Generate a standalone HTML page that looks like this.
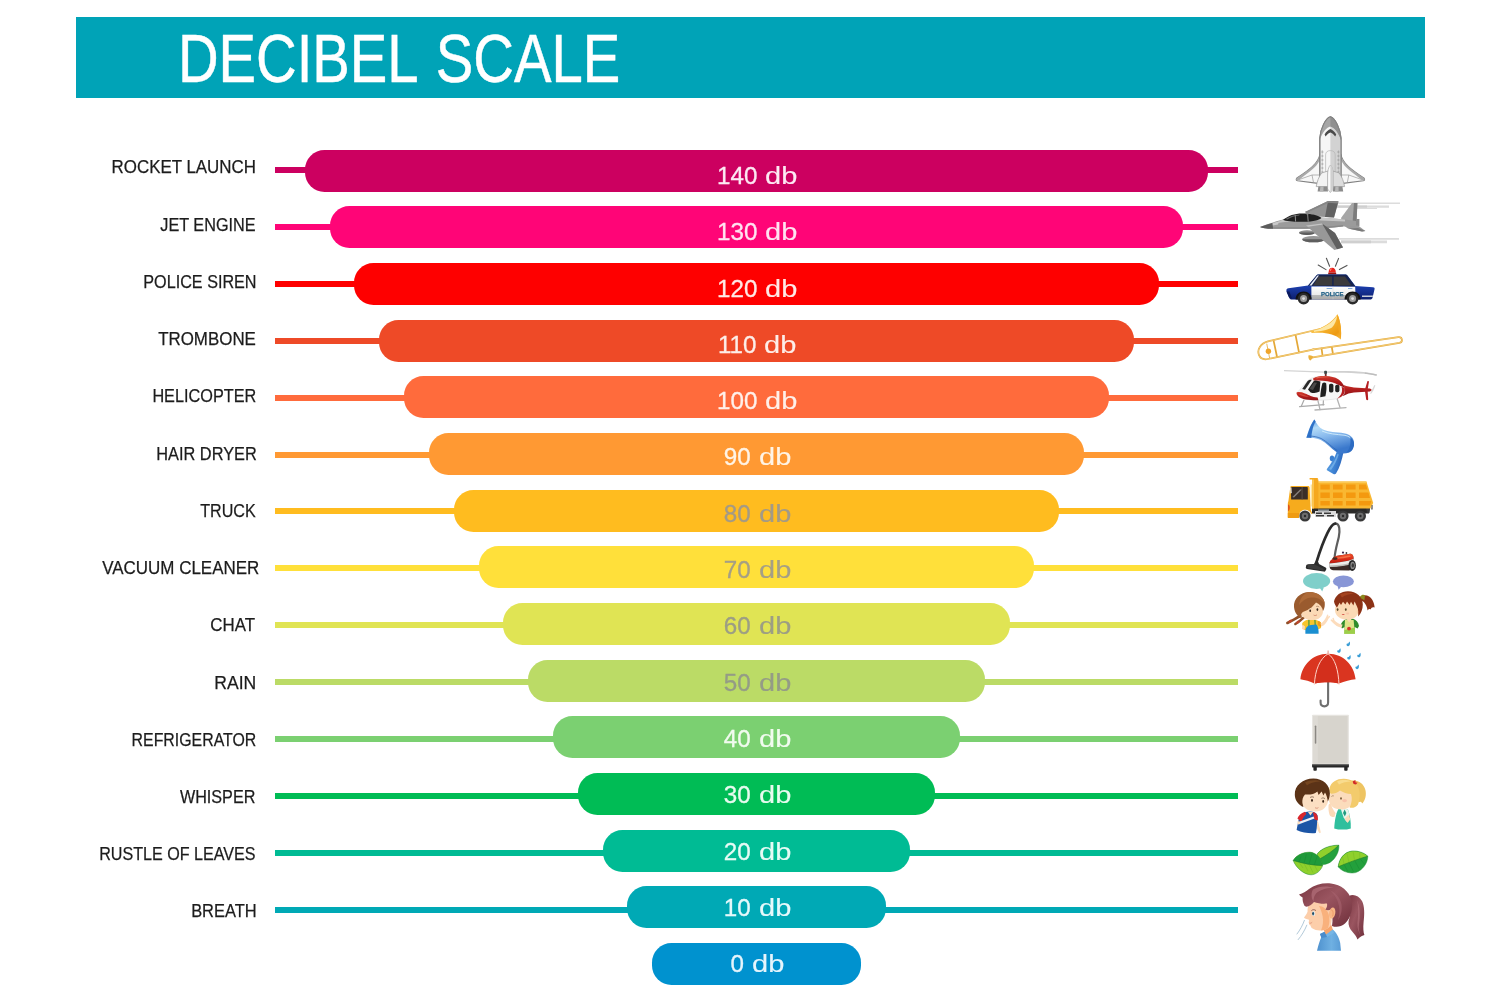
<!DOCTYPE html>
<html lang="en">
<head>
<meta charset="utf-8">
<title>Decibel Scale</title>
<style>
html,body{margin:0;padding:0;background:#fff;}
body{width:1500px;height:1000px;position:relative;overflow:hidden;font-family:"Liberation Sans",sans-serif;}
.page{position:absolute;left:0;top:0;width:1500px;height:1000px;background:#fff;overflow:hidden;}
.title{position:absolute;left:76px;top:17.3px;width:1349px;height:81px;background:#00a3b7;margin:0;}
.title h1{position:absolute;margin:0;left:102px;top:1px;word-spacing:4.5px;font-weight:400;color:#fff;white-space:nowrap;
  font-size:68px;line-height:81px;height:81px;transform-origin:0 50%;transform:scaleX(.8268);letter-spacing:0;-webkit-text-stroke:.5px #fff;}
.scale{list-style:none;margin:0;padding:0;}
.scale li{margin:0;padding:0;}
.line{position:absolute;left:274.7px;width:963.3px;height:6px;}
.bar{position:absolute;height:42px;border-radius:19.5px;}
.label{position:absolute;right:1244.7px;white-space:nowrap;color:#1c1c1c;-webkit-text-stroke:.25px #1c1c1c;font-size:18.5px;line-height:18.5px;
  transform-origin:100% 50%;transform:scaleX(0.91);}
.db{position:absolute;left:0;width:100%;text-align:center;white-space:nowrap;-webkit-text-stroke:.3px currentColor;font-size:24.2px;line-height:24.2px;letter-spacing:0px;}
.u{display:inline-block;transform:scaleX(1.2);transform-origin:0 50%;margin-left:1.2px;margin-right:3.8px;-webkit-text-stroke:.12px currentColor;}
.icons{position:absolute;left:0;top:0;width:1500px;height:1000px;}
</style>
</head>
<body>
<div class="page">
<header class="title"><h1>DECIBEL SCALE</h1></header>
<ul class="scale">
<li><span class="label" style="top:158.44px;right:1244.31px;transform:scaleX(0.9139)">ROCKET LAUNCH</span><span class="line" style="top:167px;background:#cc0060"></span><span class="bar" style="left:304.7px;top:149.7px;width:903.6px;background:#cc0060"><span class="db" style="top:14.21px;color:#fde9f3">140 <span class="u">db</span></span></span></li>
<li><span class="label" style="top:215.67px;right:1244.71px;transform:scaleX(0.8778)">JET ENGINE</span><span class="line" style="top:223.91px;background:#ff0577"></span><span class="bar" style="left:329.53px;top:206.36px;width:853.94px;background:#ff0577"><span class="db" style="top:13.86px;color:#ffe3f1">130 <span class="u">db</span></span></span></li>
<li><span class="label" style="top:272.9px;right:1243.85px;transform:scaleX(0.8739)">POLICE SIREN</span><span class="line" style="top:280.82px;background:#fe0000"></span><span class="bar" style="left:354.36px;top:263.02px;width:804.28px;background:#fe0000"><span class="db" style="top:13.51px;color:#ffe9e6">120 <span class="u">db</span></span></span></li>
<li><span class="label" style="top:330.13px;right:1244.48px;transform:scaleX(0.9145)">TROMBONE</span><span class="line" style="top:337.73px;background:#ee4a27"></span><span class="bar" style="left:379.19px;top:319.68px;width:754.62px;background:#ee4a27"><span class="db" style="top:13.16px;color:#fdeee9">110 <span class="u">db</span></span></span></li>
<li><span class="label" style="top:387.36px;right:1243.78px;transform:scaleX(0.8784)">HELICOPTER</span><span class="line" style="top:394.64px;background:#ff6b3c"></span><span class="bar" style="left:404.02px;top:376.34px;width:704.96px;background:#ff6b3c"><span class="db" style="top:12.81px;color:#fff0ea">100 <span class="u">db</span></span></span></li>
<li><span class="label" style="top:444.59px;right:1243.43px;transform:scaleX(0.8833)">HAIR DRYER</span><span class="line" style="top:451.55px;background:#ff9933"></span><span class="bar" style="left:428.85px;top:433px;width:655.3px;background:#ff9933"><span class="db" style="top:12.46px;color:#fff4e6">90 <span class="u">db</span></span></span></li>
<li><span class="label" style="top:501.82px;right:1244.58px;transform:scaleX(0.8711)">TRUCK</span><span class="line" style="top:508.46px;background:#ffbc1f"></span><span class="bar" style="left:453.68px;top:489.66px;width:605.64px;background:#ffbc1f"><span class="db" style="top:12.11px;color:#a39a86">80 <span class="u">db</span></span></span></li>
<li><span class="label" style="top:559.05px;right:1240.19px;transform:scaleX(0.9173)">VACUUM CLEANER</span><span class="line" style="top:565.37px;background:#ffe03a"></span><span class="bar" style="left:478.51px;top:546.32px;width:555.98px;background:#ffe03a"><span class="db" style="top:11.76px;color:#a59f85">70 <span class="u">db</span></span></span></li>
<li><span class="label" style="top:616.28px;right:1245.38px;transform:scaleX(0.9109)">CHAT</span><span class="line" style="top:622.28px;background:#e0e454"></span><span class="bar" style="left:503.34px;top:602.98px;width:506.32px;background:#e0e454"><span class="db" style="top:11.41px;color:#9c9e84">60 <span class="u">db</span></span></span></li>
<li><span class="label" style="top:673.51px;right:1243.6px;transform:scaleX(0.9488)">RAIN</span><span class="line" style="top:679.19px;background:#bbdb66"></span><span class="bar" style="left:528.17px;top:659.64px;width:456.66px;background:#bbdb66"><span class="db" style="top:11.06px;color:#949c86">50 <span class="u">db</span></span></span></li>
<li><span class="label" style="top:730.74px;right:1244.06px;transform:scaleX(0.8583)">REFRIGERATOR</span><span class="line" style="top:736.1px;background:#7bd071"></span><span class="bar" style="left:553px;top:716.3px;width:407px;background:#7bd071"><span class="db" style="top:10.71px;color:#f1fbef">40 <span class="u">db</span></span></span></li>
<li><span class="label" style="top:787.97px;right:1244.29px;transform:scaleX(0.8738)">WHISPER</span><span class="line" style="top:793.01px;background:#00bc55"></span><span class="bar" style="left:577.83px;top:772.96px;width:357.34px;background:#00bc55"><span class="db" style="top:10.36px;color:#e8fbef">30 <span class="u">db</span></span></span></li>
<li><span class="label" style="top:845.2px;right:1244.33px;transform:scaleX(0.8709)">RUSTLE OF LEAVES</span><span class="line" style="top:849.92px;background:#00bb94"></span><span class="bar" style="left:602.66px;top:829.62px;width:307.68px;background:#00bb94"><span class="db" style="top:10.01px;color:#e6fbf5">20 <span class="u">db</span></span></span></li>
<li><span class="label" style="top:902.43px;right:1243.59px;transform:scaleX(0.8897)">BREATH</span><span class="line" style="top:906.83px;background:#00a9b5"></span><span class="bar" style="left:627.49px;top:886.28px;width:258.02px;background:#00a9b5"><span class="db" style="top:9.66px;color:#e6f9fb">10 <span class="u">db</span></span></span></li>
<li><span class="bar" style="left:652.32px;top:942.94px;width:208.36px;background:#0092cf"><span class="db" style="top:9.31px;color:#e6f5fc">0 <span class="u">db</span></span></span></li>
</ul>
<svg class="icons" viewBox="0 0 1500 1000" width="1500" height="1000" aria-label="sound source illustrations">
<g id="shuttle" transform="translate(1285,105)">
  <!-- wings -->
  <path d="M35,49 C33.4,58.5 24,65 11.6,73.2 C10.8,74.6 11.4,75.6 12.6,75.8 L33,78.4 L58,78.4 L78.2,75.8 C79.4,75.6 80,74.6 79.2,73.2 C66.8,65 57.4,58.5 55.8,49 Z" fill="#f7f7f7" stroke="#808080" stroke-width="1.1" stroke-linejoin="round"/>
  <path d="M35,49 C33.4,58.5 24,65 11.6,73.2 C10.8,74.6 11.4,75.6 12.6,75.8 C22,68.5 31.5,63 35,54.5 Z" fill="#a8a8a8"/>
  <path d="M55.8,49 C57.4,58.5 66.8,65 79.2,73.2 C80,74.6 79.4,75.6 78.2,75.8 C68.8,68.5 59.3,63 55.8,54.5 Z" fill="#a8a8a8"/>
  <path d="M14,74.6 L27,70 L34,70 M27,70 L28.5,77.6 M76.8,74.6 L63.8,70 L56.8,70 M63.8,70 L62.3,77.6" fill="none" stroke="#9a9a9a" stroke-width=".7"/>
  <!-- body -->
  <path d="M34.8,74 L34.8,33 C35.4,24 40.6,13 45.4,11.8 C50.2,13 55.4,24 56,33 L56,74 Z" fill="#f6f6f6" stroke="#808080" stroke-width="1.1" stroke-linejoin="round"/>
  <path d="M45.4,11.8 C50.2,13 55.4,24 56,33 L56,74 L45.4,74 Z" fill="#d2d2d2"/>
  <!-- nose cap -->
  <path d="M34.8,35 L34.8,33 C35.4,24 40.6,13 45.4,11.8 C50.2,13 55.4,24 56,33 L56,35 C53.5,27 49,22 45.4,21.4 C41.8,22 37.3,27 34.8,35 Z" fill="#a6a6a6"/>
  <path d="M45.4,11.8 C50.2,13 55.4,24 56,33 L56,35 C53.5,27 49,22 45.4,21.4 Z" fill="#8f8f8f"/>
  <path d="M34.8,74 L34.8,33 C35.4,24 40.6,13 45.4,11.8 C50.2,13 55.4,24 56,33 L56,74" fill="none" stroke="#808080" stroke-width="1.1"/>
  <!-- window chevron -->
  <path d="M39.6,29.6 C41,26.6 43.6,24.6 45.4,24 C47.2,24.6 49.8,26.6 51.2,29.6 L50.2,31.4 C48.6,29.2 46.8,27.8 45.4,27.4 C44,27.8 42.2,29.2 40.6,31.4 Z" fill="#4a4a4a"/>
  <!-- payload bay lines -->
  <path d="M37.2,45 L37.2,70 M53.6,45 L53.6,70 M40.6,69 L40.6,50 C40.6,47 42.5,45.6 45.4,45.6 C48.3,45.6 50.2,47 50.2,50 L50.2,69" fill="none" stroke="#b5b5b5" stroke-width=".7"/>
  <path d="M36.4,47h2M36.4,51h2M36.4,55h2M36.4,59h2M36.4,63h2M36.4,67h2M52.4,47h2M52.4,51h2M52.4,55h2M52.4,59h2M52.4,63h2M52.4,67h2" stroke="#8c8c8c" stroke-width=".8"/>
  <!-- engine pods -->
  <path d="M36.6,68 C33.6,72 32,77 31.2,81.6 L43,81.6 L43,66 Z" fill="#f3f3f3" stroke="#9a9a9a" stroke-width=".7"/>
  <path d="M54.2,68 C57.2,72 58.8,77 59.6,81.6 L47.8,81.6 L47.8,66 Z" fill="#dcdcdc" stroke="#9a9a9a" stroke-width=".7"/>
  <!-- tail fin -->
  <path d="M45.4,60 C43.4,62 42.6,66 42.6,70 L42.6,84 L45.4,87.5 L48.2,84 L48.2,70 C48.2,66 47.4,62 45.4,60 Z" fill="#fafafa" stroke="#a8a8a8" stroke-width=".7"/>
  <path d="M45.4,60 C47.4,62 48.2,66 48.2,70 L48.2,84 L45.4,87.5 Z" fill="#cfcfcf"/>
  <!-- nozzles -->
  <path d="M33.4,81.6 L42.4,81.6 L43,86.6 L32.6,86.6 Z" fill="#8c8c8c"/>
  <path d="M48.4,81.6 L57.4,81.6 L58.2,86.6 L47.8,86.6 Z" fill="#8c8c8c"/>
  <path d="M35.4,81.6 L38.6,81.6 L38.4,86.6 L34.8,86.6 Z M50.4,81.6 L53.6,81.6 L53.6,86.6 L50,86.6 Z" fill="#b8b8b8"/>
</g>
<g id="jet" transform="translate(1255,195)">
  <!-- speed lines -->
  <path d="M82,7.6h63v1.4h-63z M82,10.4h52v2.4h-52z M100,13h22v1h-22z M84,43h60v1.8h-60z M86,45.6h46v2.6h-46z" fill="#dcdcdc"/>
  <path d="M82,10.4h30v2.4h-30z M86,45.6h30v2.6h-30z" fill="#cfcfcf"/>
  <!-- far wing -->
  <path d="M50,17 L73,6 L83.4,6.6 L79,22.4 L62,21.6 Z" fill="#939393"/>
  <path d="M73,6 L83.4,6.6 L79,22.4 L70,22 Z" fill="#626262"/>
  <path d="M50,17 L73,6 L83.4,6.6 L82.8,8.4 L73.6,7.8 L52,17.8 Z" fill="#858585"/>
  <!-- tail fin -->
  <path d="M86,23 L97,8 L102.4,8 L101.4,30 L88,30 Z" fill="#a6a6a6"/>
  <path d="M99,8 L102.4,8 L101.4,30 L97.4,30 Z" fill="#7c7c7c"/>
  <path d="M101,24 h3.4 v7 h-3.4 z" fill="#8a8a8a"/>
  <!-- stabilizer -->
  <path d="M88,30 L103,30.6 L110.4,36 L107,36.6 L93,33.6 Z" fill="#9a9a9a"/>
  <path d="M93,33.6 L107,36.6 L110.4,36 L103,33 Z" fill="#7a7a7a"/>
  <!-- fuselage -->
  <path d="M5,32 C12,29.6 20,26.6 28,24.6 C40,21.4 56,21 66,22.6 L90,24.4 L101,26 L101,31 L88,31.6 C76,33 62,33.8 50,33.8 L18,33.8 C12,33.8 7,33.2 5,32 Z" fill="#9b9b9b"/>
  <path d="M28,24.6 C40,21.4 56,21 66,22.6 L90,24.4 L90,26.6 L66,25.4 C54,25 40,25.4 26,27.6 L18,29 Z" fill="#c6c6c6"/>
  <path d="M18,33.8 L50,33.8 C62,33.8 76,33 88,31.6 L88,30 C76,31.4 62,32.2 50,32.2 L17,32.2 Z" fill="#8a8a8a"/>
  <!-- nose cone -->
  <path d="M5,32 C9,30.4 13,29.2 17.6,28 L18,33.8 C12,33.8 7,33.2 5,32 Z" fill="#5c5c5c"/>
  <path d="M17.6,28 L24,26.4 L23,29.4 L17.8,30.4 Z" fill="#c9c9c9"/>
  <!-- canopy -->
  <path d="M28,24.8 C33,20.6 40,18.4 47,18.4 C56,18.4 64,20.2 66.4,23 C64,26 54,26.8 46,26.8 C38,26.8 30,26.4 28,24.8 Z" fill="#1f1f1f"/>
  <path d="M30.5,24 C34.5,21 40,19.6 45,19.4 L44,20.6 C40,21 35.5,22.4 32.5,24.4 Z" fill="#6a6a6a"/>
  <path d="M40.2,20 L40.6,26.6 M52.6,18.8 L53.2,26.6" stroke="#8e8e8e" stroke-width="1" fill="none"/>
  <path d="M50.4,16.8 L54,16.2 L54.6,19 L51.4,19.4 Z" fill="#8a8a8a"/>
  <!-- pods -->
  <ellipse cx="52" cy="37.6" rx="8" ry="2.3" fill="#8f8f8f"/>
  <path d="M44,37.6 a8,2.3 0 0 0 16,0 z" fill="#5e5e5e"/>
  <ellipse cx="58.5" cy="44.2" rx="11.4" ry="3.1" fill="#979797"/>
  <path d="M47.1,44.2 a11.4,3.1 0 0 0 22.8,0 z" fill="#5e5e5e"/>
  <!-- near wing -->
  <path d="M51,30.6 L67,28.4 L80,38 L88,52.6 L79.4,55 L60,38.4 Z" fill="#989898"/>
  <path d="M67,28.4 L80,38 L88,52.6 L82,54.2 Z" fill="#5f5f5f"/>
  <path d="M51,30.6 L67,28.4 L68,29.4 L53,31.8 Z" fill="#c4c4c4"/>
</g>
<g id="police-car" transform="translate(1280,252)">
  <defs>
    <linearGradient id="pcBlue" x1="0" y1="0" x2="0" y2="1"><stop offset="0" stop-color="#2a5bd0"/><stop offset=".45" stop-color="#1c3fae"/><stop offset="1" stop-color="#0d1f6e"/></linearGradient>
    <linearGradient id="pcDoor" x1="0" y1="0" x2="0" y2="1"><stop offset="0" stop-color="#ffffff"/><stop offset=".62" stop-color="#ececec"/><stop offset=".68" stop-color="#b9b9b9"/><stop offset="1" stop-color="#a9a9a9"/></linearGradient>
  </defs>
  <!-- rays -->
  <path d="M38.2,13 L46,17.6 M46.4,6.2 L49.6,14.2 M58.6,6.4 L55.4,14.2 M67,13.4 L59.4,17.6" stroke="#555" stroke-width="1.1" fill="none" stroke-linecap="round"/>
  <!-- siren -->
  <path d="M48.6,20.6 C48.6,17.4 50,15.8 52.2,15.8 C54.4,15.8 55.8,17.4 55.8,20.6 Z" fill="#e8231c"/>
  <path d="M49.6,18.6 C50,17 51,16.4 52,16.4 C51.4,17 51,18 50.8,19 Z" fill="#ff8a7a"/>
  <rect x="48.2" y="20.4" width="8" height="2.2" rx=".6" fill="#9b1410"/>
  <!-- body -->
  <path d="M6.4,38.4 C6.4,37 7,36.4 8.4,36.2 L28,33.4 L36.4,23.4 C36.8,22.8 37.4,22.6 38,22.6 L65.4,22.6 C66.2,22.6 66.8,22.8 67.4,23.6 L75.4,34 L93,35.2 C94.4,35.4 94.8,36 94.6,37 L92.6,45.6 C92.4,46.8 91.8,47.4 90.6,47.4 L12,47.4 C10.4,47.4 9.6,46.8 9.2,45.4 L6.6,40 Z" fill="url(#pcBlue)"/>
  <!-- white door section -->
  <path d="M31.4,34.6 L75.2,34.6 L75.6,47.4 L31.4,47.4 Z" fill="url(#pcDoor)"/>
  <path d="M53,34.6 L53,47.4" stroke="#cfcfcf" stroke-width=".4"/>
  <!-- window frame -->
  <path d="M28,33.8 L36.4,23.4 C36.8,22.8 37.4,22.6 38,22.6 L65.4,22.6 C66.2,22.6 66.8,22.8 67.4,23.6 L75.4,34.6 Z" fill="#16234f"/>
  <path d="M29.4,33.6 L37.4,23.6 L39,23.6 L31.6,33.6 Z" fill="#e9eef8"/>
  <path d="M38.8,24.6 L52.2,24.6 L52.2,33.6 L33.2,33.6 Z" fill="#3b3a3c"/>
  <path d="M53.6,24.6 L65,24.6 L71.4,33.6 L53.6,33.6 Z" fill="#3b3a3c"/>
  <!-- handles -->
  <path d="M46.6,36.2h5.6v.9h-5.6z M68,36.2h4.4v.9h-4.4z" fill="#5b8fd0"/>
  <!-- text -->
  <text x="52.2" y="43.9" text-anchor="middle" font-family="'Liberation Sans',sans-serif" font-weight="700" font-size="6" letter-spacing=".05" fill="#1f5f86" stroke="#1f5f86" stroke-width=".25">POLICE</text>
  <!-- bumper -->
  <path d="M82,43.6 L93,43.6 L92.8,45 L82,45 Z" fill="#c9ced8"/>
  <path d="M6.6,39.6 L9,45.6 L12,46.6 L9.4,39.4 Z" fill="#0b1a5c"/>
  <!-- wheel arches -->
  <path d="M15.6,47.4 C15.6,42.4 19,39.4 23.6,39.4 C28.2,39.4 31.6,42.4 31.6,47.4 Z M64.6,47.4 C64.6,42.4 68,39.4 72.6,39.4 C77.2,39.4 80.6,42.4 80.6,47.4 Z" fill="#121212"/>
  <!-- wheels -->
  <circle cx="23.6" cy="46.6" r="5.9" fill="#2a2a2a"/><circle cx="23.6" cy="46.6" r="3.5" fill="#9c9c9c"/><circle cx="23.6" cy="46.6" r="1.4" fill="#e0e0e0"/>
  <circle cx="72.6" cy="46.6" r="5.9" fill="#2a2a2a"/><circle cx="72.6" cy="46.6" r="3.5" fill="#9c9c9c"/><circle cx="72.6" cy="46.6" r="1.4" fill="#e0e0e0"/>
</g>
<g id="trombone" transform="translate(1252,308)">
  <defs>
    <linearGradient id="tbBell" x1="0" y1="0" x2="1" y2="1"><stop offset="0" stop-color="#ffe9a6"/><stop offset=".45" stop-color="#f7b733"/><stop offset=".8" stop-color="#ee9a12"/><stop offset="1" stop-color="#f6c04a"/></linearGradient>
  </defs>
  <g fill="none" stroke="#e4a838" stroke-width="1.75" stroke-linecap="round" stroke-linejoin="round">
    <!-- slide -->
    <path d="M60,41.6 L146.4,29.2 C150.4,28.8 151.4,34 147.4,34.8 L58,49.8"/>
    <path d="M69.6,40.6 L70.4,46.6 M79.8,39.2 L80.8,45"/>
    <!-- main tubing -->
    <path d="M72,20 L16,33.4 C8.4,35.4 4.8,41.6 7,47.2 C8.6,51 12,51.8 16,51 L62,41.4"/>
    <path d="M21.6,32.6 L25,48.8 M43.6,27.4 L47,44.4"/>
    <path d="M14.8,36 L17.6,50" stroke-width=".8"/>
  </g>
  <g fill="none" stroke="#fbe3a0" stroke-width=".6" stroke-linecap="round"><path d="M60,41.6 L146.4,29.2 C150.4,28.8 151.4,34 147.4,34.8 L58,49.8"/><path d="M72,20 L16,33.4 C8.4,35.4 4.8,41.6 7,47.2 C8.6,51 12,51.8 16,51 L62,41.4"/></g>
  <!-- bell -->
  <path d="M58,23.4 C71,20.4 80,14.4 85.4,6.2 C88.6,13 89.8,23 88.8,31.6 C83,25.8 73,23.8 60,25 Z" fill="url(#tbBell)"/>
  <path d="M85.4,6.2 C88.6,13 89.8,23 88.8,31.6 C86.2,24 85,14 85.4,6.2 Z" fill="#f3a51e"/>
  <path d="M62,22.6 C73,19.6 80.6,14 85.2,7.4 C84.6,12 83,16 80,19.6 C75,22.6 68,23.2 62,24 Z" fill="#fde7a4"/>
  <!-- tuning ball -->
  <circle cx="16.4" cy="43.2" r="2.7" fill="#f0a52a"/>
  <!-- mouthpiece -->
  <path d="M56.4,47.4 C58.4,46.8 60.4,47.6 61.4,49 L58.6,52.4 C57,52 56,50 56.4,47.4 Z" fill="#ecb03c"/>
</g>
<g id="helicopter" transform="translate(1280,364)">
  <defs>
    <linearGradient id="hRed" x1="0" y1="0" x2="0" y2="1"><stop offset="0" stop-color="#d23a2c"/><stop offset=".5" stop-color="#b11d1d"/><stop offset="1" stop-color="#8e1418"/></linearGradient>
  </defs>
  <!-- rotor -->
  <path d="M4,6 L45,7.6 L45,8.8 L4,7.2 Z" fill="#d4d4d4"/>
  <path d="M46,7.4 C60,6.6 76,7 86,8.2 C90,8.8 94,9.6 97,10.4 L96.4,11.8 C92,10.8 88,10.2 84,9.8 C74,8.8 60,8.4 46,8.8 Z" fill="#d0d0d0"/>
  <path d="M85,8.4 C90,9 94,9.8 97,10.6 L96.4,11.8 C92,10.8 88,10.2 84.6,9.8 Z" fill="#bdbdbd"/>
  <rect x="44.2" y="6.8" width="2.8" height="3.2" rx=".8" fill="#3c4a4a"/>
  <rect x="44.8" y="9.8" width="1.8" height="2.6" fill="#6e2a2a"/>
  <!-- skids -->
  <g fill="none" stroke="#a9a9a9" stroke-width="1.2" stroke-linecap="round">
    <path d="M24,36 L21.4,42 M43.4,36.6 L43.2,41"/>
    <path d="M19.6,42.6 L44,40.6"/>
  </g>
  <g fill="none" stroke="#b4b4b4" stroke-width="1.35" stroke-linecap="round">
    <path d="M38,36.8 L40,45.6 M57.2,35 L60,43.4"/>
    <path d="M35,46 L66,43.6"/>
  </g>
  <!-- tail boom -->
  <path d="M60,19 C64,21.6 68,22.8 74,23.4 L90,24.6 L92,26 L90,27.4 L74,28.4 C70,28.8 67,29.8 63,32 Z" fill="url(#hRed)"/>
  <!-- tail fin -->
  <path d="M87.4,17.2 C88,16.8 88.8,17 89,17.6 L87.6,26 L88.2,35.6 C88,36.4 86.6,36.4 86.2,35.6 L84.8,26 Z" fill="#b51f22"/>
  <path d="M91.6,26.4 L94.4,21 L95.4,21.4 L93.2,26.8 L91,30 L90.2,29.6 Z" fill="#d9d9d9"/>
  <!-- body (white) -->
  <path d="M16.6,29 C20,26 25,19 29,15.6 C32,13.4 36,12.6 42,12.4 C50,12.2 56,13.4 60,17 C63,20 65,24 64.6,28 C64,32 60,34.4 54,35.2 C46,36.2 38,36.4 32,36 C24,35.6 17,33 16.6,29 Z" fill="#f6f6f6" stroke="#d9d9d9" stroke-width=".5"/>
  <!-- red roof -->
  <path d="M33,14.4 C36,12.6 40,12 44,12 C51,12 57,13.4 60.4,17 C62.4,19 64,21.6 64.6,23.4 C60,22 56,19.4 52,18.2 C46,16.6 40,16.6 33.6,16.6 Z" fill="url(#hRed)"/>
  <path d="M36,13.4 C40,12.4 46,12.2 50,13 C46,13.2 40,13.6 36.6,14.4 Z" fill="#e2614e"/>
  <!-- red belly -->
  <path d="M16.6,28.4 C19,27.8 22,28.2 25,29.4 C29,31 32,33 37.6,33.4 L38.4,36.2 C30,36.4 22,35.4 18.4,32.4 C17,31.2 16.4,29.8 16.6,28.4 Z" fill="url(#hRed)"/>
  <path d="M18.6,30 C22,29.8 26,31.4 29,33 C26,32.8 21,32.2 18.6,30 Z" fill="#d24a3c"/>
  <path d="M57,34.6 C60.6,33.6 64,31.4 64.6,28 C65,26 64.8,24.6 64.6,23.4 L61.6,23 C63,27 61.4,31.6 57,34.6 Z" fill="#b51f22"/>
  <!-- windows -->
  <path d="M22.2,25 L27.6,17 C28.6,16 30.4,15.6 31.8,15.8 L25,25.8 Z" fill="#2a2a2a"/>
  <path d="M28,25.6 L33.4,17.4 C34,16.6 35,16.4 36,16.6 L40.4,17.4 L39.6,27.6 C36.6,29.2 33.6,29.4 30.6,28.4 Z" fill="#1f1f1f"/>
  <path d="M29.6,25 L34,18.4 L37,18.8 L33,26 Z" fill="#4a4a4a"/>
  <path d="M42.4,19.2 C43.4,18.2 45.4,18.2 46.2,19.4 C46.8,23 46.4,28 45.4,32.2 L40.2,33.2 C40.6,28 41.2,23 42.4,19.2 Z" fill="#1e1e1e"/>
  <rect x="49" y="19.8" width="4.4" height="8.6" rx="1.6" fill="#222"/>
  <rect x="55.2" y="20.8" width="4.2" height="7.4" rx="1.6" fill="#222"/>
</g>
<g id="hair-dryer" transform="translate(1295,414)">
  <defs>
    <linearGradient id="hdBody" x1="0" y1="0" x2=".35" y2="1"><stop offset="0" stop-color="#4a8fdb"/><stop offset=".28" stop-color="#b4dcf8"/><stop offset=".55" stop-color="#8bbcee"/><stop offset="1" stop-color="#3a78cc"/></linearGradient>
    <linearGradient id="hdHandle" x1="0" y1="0" x2="1" y2=".3"><stop offset="0" stop-color="#63a7e6"/><stop offset=".6" stop-color="#3f84d4"/><stop offset="1" stop-color="#2b66bb"/></linearGradient>
  </defs>
  <!-- button -->
  <ellipse cx="37" cy="44.4" rx="2.2" ry="2.8" fill="#3a7fd0"/>
  <!-- handle -->
  <path d="M42,37 L48.4,38.6 C47,46 44.6,54 41,59.6 C40.4,60.4 39.4,60.4 38.4,60 L32.4,56.6 C31.6,56 31.6,55.2 32.2,54.4 C36.6,49 40,43 42,37 Z" fill="url(#hdHandle)"/>
  <path d="M42.4,40 C40.4,46 37.4,51 34,55 L36,56 C39,52 42,46 43.8,40.4 Z" fill="#7fb9ee" opacity=".7"/>
  <!-- body -->
  <path d="M19.4,5.4 C21.4,9.6 24,13.4 28,15.6 C33,18 42,18.4 49,19.2 C55,20 59.4,24 59,29.6 C58.6,33.6 57,37 54.4,38.2 C50,40 45,39.6 41.4,38 C36,34.4 31,28.6 25.4,25.8 C21.4,24 16,23.8 11.4,23.8 C11.4,23.8 13,18 14.6,14 C16,10.6 18,7 19.4,5.4 Z" fill="url(#hdBody)"/>
  <!-- mouth shading -->
  <path d="M19.4,5.4 C17.4,8 15.4,12 14,16 C12.8,19.4 11.8,22.4 11.4,23.8 C13.4,23.8 15,23.8 16.4,23.9 C16.6,18 18.4,11 20.6,7.6 Z" fill="#2f72c8"/>
  <!-- back cap -->
  <path d="M55,23 C58,25 59.6,28 59,31.6 C58.4,35 57,37.4 54.4,38.2 C53,38.6 52,38.6 51.4,38.4 C55,35 56.4,28 55,23 Z" fill="#2e6cc2"/>
  <path d="M27,17 C33,20 42,20.4 49,21.2 C52,21.6 54,22.6 55.4,24" stroke="#d6eefc" stroke-width="1" fill="none" opacity=".85"/>
  <path d="M13.4,22 C18,22 22.4,22.8 26.4,24.6 C32,27.6 37,33.4 42.4,36.6" stroke="#2a62b4" stroke-width="1" fill="none" opacity=".7"/>
</g>
<g id="truck" transform="translate(1280,472)">
  <!-- chassis -->
  <path d="M32,36 L90,36 L89,41.4 L32,41.4 Z" fill="#2b2a28"/>
  <path d="M35,39 h21 v6 h-21 z" fill="#dcdcdc"/>
  <path d="M36,40.4 h6 v1.6 h-6 z M44,40.4 h7 v1.6 h-7 z M36,43 h8 v1.4 h-8 z M47,43 h7 v1.4 h-7 z" fill="#3a3a3a"/>
  <path d="M38,37.4 h11 v2 h-11 z" fill="#8e9498"/>
  <path d="M86,36 L90,36 L89.4,41 L87.4,41 Z" fill="#3a3a3a"/>
  <!-- dump bed -->
  <path d="M38,9.6 L86.4,9.6 L93.2,31 L90.4,36.6 L38,36.6 Z" fill="#f9b731"/>
  <path d="M38,9.6 L86.4,9.6 L86.8,11 L38,11 Z" fill="#fcc955"/>
  <g fill="#f4990f">
    <path d="M40.4,12.6h9.4v4.8h-9.4z M53,12.6h9.6v4.8H53z M66,12.6h9.6v4.8H66z M79,12.6h7l1.4,4.8H79z"/>
    <path d="M40.4,20.6h9.4v5.4h-9.4z M53,20.6h9.6v5.4H53z M66,20.6h9.6v5.4H66z M79,20.6h9.4l1.6,5.4H79z"/>
    <path d="M40.4,29h9.4v4.6h-9.4z M53,29h9.6v4.6H53z M66,29h9.6v4.6H66z M79,29h12.4l-1.4,4.6H79z"/>
  </g>
  <path d="M91.6,33 L92.6,33 L92.6,37.6 L91.2,37.6 Z" fill="#55504a"/>
  <!-- front post -->
  <path d="M29.6,6 L37.8,6 L37.8,7.6 L38.4,7.6 L38.4,36.6 L32,36.6 L32,7.6 L29.6,7.6 Z" fill="#f5a81f"/>
  <path d="M32,7.6 L34,7.6 L34,36.6 L32,36.6 Z" fill="#fbc450"/>
  <path d="M30.6,12.6 h1.4 v22 h-1.4 z" fill="#fce3a0"/>
  <!-- cab -->
  <path d="M10.4,14.6 C10.6,14.2 11,14 11.6,14 L28,14 C29,14 29.6,14.6 29.6,15.6 L30.6,36 C30.8,38 31.4,40 32.4,41.4 L31.2,42 C30.6,39.4 28,37.8 25,37.8 C21.8,37.8 19.4,40 19,43.4 L18.8,46 L8.6,46 C8,46 7.8,45.6 7.8,45 L7.8,32 C7.8,31 8,30 8.4,29 Z" fill="#f6ab1d"/>
  <path d="M7.8,41 L19.6,41 L18.8,46 L8.6,46 C8,46 7.8,45.6 7.8,45 Z" fill="#ef9b12"/>
  <path d="M10.8,15.6 C10.9,15.2 11.2,15 11.8,15 L27,15 C27.6,15 27.8,15.3 27.8,15.8 L27.8,27.6 L11.2,27.6 Z" fill="#3a2e28"/>
  <path d="M12.4,25 L20,17.4 L22,17.4 L14,25.6 Z" fill="#9a9490" opacity=".8"/>
  <path d="M21.6,15 L22.6,15 L22.6,27.6 L21.6,27.6 Z" fill="#5a4e46"/>
  <path d="M10.2,15.4 L11.4,15.4 L11.8,21 L10.4,21.6 Z" fill="#f0ede8"/>
  <path d="M8,32.4 C9,32.4 9.8,33.6 9.8,35.6 C9.8,37.6 9,39 8,39 Z" fill="#e2541c"/>
  <!-- wheels -->
  <g>
    <circle cx="25" cy="44" r="5.6" fill="#383838"/><circle cx="25" cy="44" r="3.2" fill="#6e6e6e"/><circle cx="25" cy="44" r="1.2" fill="#2a2a2a"/>
    <circle cx="63" cy="44" r="5.6" fill="#383838"/><circle cx="63" cy="44" r="3.2" fill="#6e6e6e"/><circle cx="63" cy="44" r="1.2" fill="#2a2a2a"/>
    <circle cx="80.4" cy="44" r="5.6" fill="#383838"/><circle cx="80.4" cy="44" r="3.2" fill="#6e6e6e"/><circle cx="80.4" cy="44" r="1.2" fill="#2a2a2a"/>
  </g>
</g>
<g id="vacuum" transform="translate(1295,518)">
  <defs>
    <linearGradient id="vcRed" x1="0" y1="0" x2="0" y2="1"><stop offset="0" stop-color="#f0522c"/><stop offset=".6" stop-color="#d52a17"/><stop offset="1" stop-color="#b71d12"/></linearGradient>
  </defs>
  <!-- hose (back, grey) -->
  <path d="M40.2,5.7 C45,5.4 45,13 43.8,19 C42.4,25.4 40.2,32 39.6,39.6" fill="none" stroke="#5e5e5e" stroke-width="2.2" stroke-linecap="round"/>
  <!-- wand -->
  <path d="M21.2,45 C24,36 28,24 32.4,15.2 C34.8,10.2 37,5.9 40.2,5.7" fill="none" stroke="#2c2c2c" stroke-width="2.7" stroke-linecap="round"/>
  <!-- floor head -->
  <path d="M11,48.4 C11,47 12,46.2 13.2,46.2 L19,46 L20.4,43.4 L23.4,44.2 L24,46 L30.6,49.4 C31.4,50 31.6,50.8 31.2,51.6 L30.4,53 C30,53.6 29.4,53.8 28.6,53.6 L12,51 C11.2,50.8 10.8,50.2 10.8,49.6 Z" fill="#2b2b2b"/>
  <path d="M13,46.8 L19.4,46.6 L29,51 L28.4,52.4 L12.4,50 Z" fill="#3c3c3c"/>
  <!-- body -->
  <path d="M34.6,46 C34.4,44 35.6,42.6 37,41.6 C38.4,39.8 39.4,38.4 41,38 L55,35.8 C57,35.6 58.2,37 58.4,39 L58.4,48 C58.4,50.6 56.6,52.4 54,52.4 L38,52.2 C35.8,52 34.6,50.6 34.6,48.6 Z" fill="#3a2a26"/>
  <path d="M34.6,45.4 C34.4,43.8 35.6,42.6 37,41.6 C38.4,39.8 39.4,38.4 41,38 L55,35.8 C57,35.6 58.2,37 58.4,39 L58.4,41 C52,43.6 44,44.6 34.6,45.4 Z" fill="url(#vcRed)"/>
  <path d="M34.6,45.4 C44,44.6 52,43.6 58.4,41 L58.4,45 C52,47.4 44,48.4 34.6,48.6 Z" fill="#ededea"/>
  <path d="M34.8,47.4 C44,47.2 52,46.2 58.4,44 L58.4,45.4 C52,47.8 44,48.8 34.8,49 Z" fill="#bfbfba"/>
  <path d="M42,39.4 L54,37.4 C55,37.4 55.6,38 55.6,38.8 C51,40 46,40.6 41.4,41 Z" fill="#f77a4e" opacity=".8"/>
  <!-- hose socket -->
  <ellipse cx="40" cy="40.6" rx="2.6" ry="1.4" fill="#4a2a20"/>
  <!-- knobs -->
  <circle cx="48" cy="34.6" r="1.1" fill="#3b2a4e"/><circle cx="51.4" cy="35" r=".9" fill="#3a3a3a"/>
  <!-- wheel -->
  <ellipse cx="57.2" cy="47.4" rx="3.7" ry="5.5" fill="#252525"/>
  <ellipse cx="57.6" cy="47.4" rx="2.2" ry="3.6" fill="#8a8a8a"/>
  <ellipse cx="57.8" cy="47.4" rx="1.2" ry="2.2" fill="#3a3a3a"/>
</g>
<g id="chat" transform="translate(1280,568)">
  <!-- bubbles -->
  <ellipse cx="36.6" cy="13" rx="13.6" ry="7.9" fill="#7fcfca"/>
  <path d="M39.6,19.6 L42.2,23.6 L43.8,19.4 Z" fill="#7fcfca"/>
  <ellipse cx="63.4" cy="13.4" rx="10.5" ry="5.9" fill="#8896d6"/>
  <path d="M57.4,17.6 L58.6,21.8 L61.4,18.4 Z" fill="#8896d6"/>
  <!-- LEFT GIRL -->
  <!-- braids -->
  <g stroke="#8f4f27" stroke-width="2.6" stroke-linecap="round" fill="none">
    <path d="M20.4,48 C16,50.4 11,53 7.4,55"/>
    <path d="M23.6,49.6 C21,52 18,54.4 15.4,56"/>
  </g>
  <g stroke="#c0452c" stroke-width="2.4" stroke-linecap="round"><path d="M9.6,53.6 L11,52.8 M17.4,54.6 L18.4,53.8"/></g>
  <!-- body -->
  <path d="M22,56 C23,53 27,51.6 31,51.6 C36,51.6 40,52.6 41.4,55.6 L41,60 L37,62 L24,62 Z" fill="#f6c52b"/>
  <path d="M38,53 C40,53.6 41.6,55 42,56.6 L40.6,59 L37.6,57 Z" fill="#f09a1c"/>
  <path d="M28.2,51.8 L29.6,51.8 L29.6,58 L28.2,58 Z M34.2,51.8 L35.6,51.8 L36,58 L34.6,58 Z" fill="#5f9e3a"/>
  <path d="M25.4,62 C26,59 28,57.4 31,57 L36.4,56.4 C38,58 38.8,62 38.6,65.8 L25.4,65.8 Z" fill="#1b8fd1"/>
  <path d="M22.6,56.4 L25,58.4 L24.6,62 L22,61 Z" fill="#fbd9b5"/>
  <!-- arm raised -->
  <path d="M40.4,55.4 C43,54.4 45,51.4 46.4,48.4 L47.2,46.6 L48.4,47 L48,48.8 L49.6,47.8 L50.2,48.8 L48.6,50.6 C47,54 45,57.4 41.6,58.6 Z" fill="#fcdcbc"/>
  <!-- head -->
  <path d="M21,44 C21,38 26,33.4 32.6,33.4 C38.6,33.4 43,37.4 43,43 C43,48.6 38.4,52 32.6,52 C26.4,52 21,49.6 21,44 Z" fill="#fbdab6"/>
  <!-- hair -->
  <path d="M14,39 C13.4,31 20,24 29.4,24 C38,24 44.6,29.6 44.8,36 C44.9,39 44,41.4 43,43 C42.6,39.6 40,36.4 36,34.6 C33.6,38 29,42 24,43.6 C22.4,44.2 21.4,45.4 21.2,47 C21,48.4 21.6,49.6 22.6,50.4 C18,49.4 14.6,45 14,39 Z" fill="#9a5b2e"/>
  <path d="M29.4,24 C38,24 44.6,29.6 44.8,36 C42,31.6 37,29 31,29.6 C26,30.2 22,33 19,37 C20,30 24,25 29.4,24 Z" fill="#ad6a38"/>
  <!-- face details -->
  <ellipse cx="30.2" cy="42.8" rx=".9" ry="1.3" fill="#3a2a20"/><ellipse cx="37.4" cy="41.6" rx=".9" ry="1.3" fill="#3a2a20"/>
  <path d="M28.4,40 C29.4,39.2 30.6,39.2 31.6,39.8 M36,38.6 C37,38 38.4,38.2 39.2,39" stroke="#8a5a3a" stroke-width=".5" fill="none"/>
  <path d="M33.6,47 C34.6,47.8 36,47.6 37,46.8" stroke="#c0624a" stroke-width=".6" fill="none"/>
  <!-- RIGHT GIRL -->
  <!-- ponytail -->
  <path d="M80,29 C84,25.6 90,27.4 92.4,32 C93.8,34.8 94.6,37.4 94.6,39.6 C92.6,38.6 91.4,39.6 90.6,41.4 C89.6,40.6 88.6,41 87.6,42.4 C87,38 85,34 81.4,32.4 Z" fill="#8c3216"/>
  <path d="M80.2,28.6 C81.4,26.8 83.6,26.4 85,27.4 L84.4,32.2 C83,31 81.4,30.4 80.2,30.8 Z" fill="#8c8a1e"/>
  <!-- body -->
  <path d="M60.4,58 C61.4,54 64,51.4 68,50.8 L73,50.8 C76,51.6 78.4,54 79,58 L77.6,60.6 L74.6,59 L75,65.8 L64.4,65.8 L64.6,59 L62,60.6 Z" fill="#2f8c2c"/>
  <path d="M65,52 L73.6,52 L75,65.8 L64.2,65.8 Z" fill="#dfe38a"/>
  <path d="M64.4,62 L75,59.6 L75,65.8 L64.2,65.8 Z" fill="#9ccf4a"/>
  <circle cx="69" cy="60.6" r="1.9" fill="#d6322a"/>
  <path d="M66.6,51 L71.6,51 L69.2,54.6 Z" fill="#fbd9b5"/>
  <!-- arm -->
  <path d="M61.6,59.8 C58,59 55,57 52.6,54.4 L50.6,52.4 L51,51.2 L52.8,52 L52.4,50 L53.6,49.8 L54.6,52.4 C56.6,54.6 59.6,56.2 62.6,56.6 Z" fill="#fcdcbc"/>
  <!-- head -->
  <path d="M55,42 C55,36 60,32 66.4,32 C73,32 78.6,36 78.6,42.4 C78.6,48 73.6,51.6 67,51.6 C60.6,51.6 55,48 55,42 Z" fill="#fbdab6"/>
  <ellipse cx="78.6" cy="43.6" rx="1.9" ry="2.4" fill="#f9cfa6"/>
  <!-- hair -->
  <path d="M54,33.6 C55,27.4 61,23.2 68,23.2 C76.4,23.2 82.8,29 82.8,36.4 C82.8,41.4 81,45.6 78,48.4 C78.6,45 78.4,41.4 77,38.4 L74.6,33.6 L73.4,37.6 L71,33.8 L69.6,37 L67,33.6 L65.4,36.6 L63,33.8 L61,37 L59.6,34.8 L57,39.4 C55.6,38 54.4,36 54,33.6 Z" fill="#8c3216"/>
  <path d="M60,26.6 C64,24.4 70,24 74,25.8 C70,25.8 65,27 62,29.6 Z" fill="#a5431f"/>
  <!-- face -->
  <ellipse cx="57.6" cy="41.6" rx=".9" ry="1.4" fill="#5a4a2a"/><ellipse cx="65.8" cy="41.6" rx=".9" ry="1.4" fill="#5a4a2a"/>
  <path d="M61.6,46 C62.4,47.4 64,47.4 64.8,46 Z" fill="#d8524a"/>
  <ellipse cx="67.6" cy="45.6" rx="1.6" ry="1" fill="#f6b9a0" opacity=".7"/>
</g>
<g id="umbrella" transform="translate(1290,638)">
  <!-- pole -->
  <path d="M38.1,43 L38.1,64.6 C38.1,69.6 30.6,69.6 30.6,64.6 L30.6,62.6" fill="none" stroke="#6f6f6f" stroke-width="2.1" stroke-linecap="round"/>
  <!-- tip -->
  <path d="M37.5,12.6 L38.7,12.6 L38.9,17 L37.3,17 Z" fill="#e9a9a0"/>
  <!-- canopy -->
  <path d="M38.1,15.8 C53,15.6 64.2,27 65.6,41.2 C60.6,41.6 54.6,43.2 49,45.4 C45.6,44.6 41.6,44.2 38,44.2 C33.6,44.2 28.6,44.6 24.4,45.4 C20,43.4 15,41.8 10.4,41.2 C11.8,27 23,15.6 38.1,15.8 Z" fill="#da3520"/>
  <path d="M38.1,15.8 C30,20 25,32 24.4,45.4 C28.6,44.6 33.6,44.2 38,44.2 C41.6,44.2 45.6,44.6 49,45.4 C48.4,32 45,20 38.1,15.8 Z" fill="#d32f1c"/>
  <path d="M38.1,15.8 C30,20 25,32 24.4,46.4 M38.1,15.8 C45,20 48.4,32 49,46.4" fill="none" stroke="#ffd3c8" stroke-width="1" stroke-linecap="round"/>
  <!-- drops -->
  <g fill="#3b9ed6">
    <path d="M59.6,3.6 C60.2,5 60.2,6.6 59.4,7.6 C58.6,8.6 57,8.4 56.6,7.2 C56.2,6 57.2,5.2 58,5.8 C58.6,5 59,4.4 59.6,3.6 Z"/>
    <path transform="translate(-9.3,6.6)" d="M59.6,3.6 C60.2,5 60.2,6.6 59.4,7.6 C58.6,8.6 57,8.4 56.6,7.2 C56.2,6 57.2,5.2 58,5.8 C58.6,5 59,4.4 59.6,3.6 Z"/>
    <path transform="translate(.7,13.3)" d="M59.6,3.6 C60.2,5 60.2,6.6 59.4,7.6 C58.6,8.6 57,8.4 56.6,7.2 C56.2,6 57.2,5.2 58,5.8 C58.6,5 59,4.4 59.6,3.6 Z"/>
    <path transform="translate(10.7,11.1)" d="M59.6,3.6 C60.2,5 60.2,6.6 59.4,7.6 C58.6,8.6 57,8.4 56.6,7.2 C56.2,6 57.2,5.2 58,5.8 C58.6,5 59,4.4 59.6,3.6 Z"/>
    <path transform="translate(8.9,22.9)" d="M59.6,3.6 C60.2,5 60.2,6.6 59.4,7.6 C58.6,8.6 57,8.4 56.6,7.2 C56.2,6 57.2,5.2 58,5.8 C58.6,5 59,4.4 59.6,3.6 Z"/>
  </g>
</g>
<g id="fridge" transform="translate(1300,708)">
  <rect x="12.1" y="6.8" width="36.8" height="50" rx=".8" fill="#e6e4df"/>
  <rect x="13.3" y="8" width="34.4" height="47.6" fill="#d7d4cd"/>
  <rect x="13.3" y="8" width="4.6" height="47.6" fill="#dddad4"/>
  <rect x="14.8" y="17.6" width="1.5" height="18.2" rx=".7" fill="#8b8883"/>
  <path d="M12.1,56.4 L48.9,56.4 L48.9,58.4 C48.9,59.2 48.4,59.6 47.6,59.6 L47.6,62 C47.6,62.5 47.2,62.7 46.8,62.7 L45,62.7 C44.5,62.7 44.2,62.4 44.2,62 L44.2,59.6 L16.8,59.6 L16.8,62 C16.8,62.5 16.4,62.7 16,62.7 L14.2,62.7 C13.7,62.7 13.4,62.4 13.4,62 L13.4,59.6 C12.6,59.6 12.1,59.2 12.1,58.4 Z" fill="#262626"/>
  <path d="M12.1,56.4 L48.9,56.4 L48.9,57.4 L12.1,57.4 Z" fill="#4a4a4a"/>
</g>
<g id="whisper" transform="translate(1285,772)">
  <!-- GIRL (behind) -->
  <!-- back hair / ponytail -->
  <path d="M66,9 C72,7.4 78.6,11 80.4,18 C81.6,23 80.4,28 77.4,31.4 C76,29.6 74.6,29.4 73.6,30.6 C73,27 72.4,22 70.4,18 Z" fill="#eec462"/>
  <!-- dress -->
  <path d="M53.4,37 C56,36 60,36.4 63,37.6 C65,43 66,50 65.8,56.4 C61,58 54,58 49.2,56.4 C49.6,50 50.6,42 53.4,37 Z" fill="#2fbf9d"/>
  <path d="M55.6,36.6 L58.6,45.6 L61.6,50 L64.6,43 L63,37.6 C60.6,36.6 58,36.2 55.6,36.6 Z" fill="#e9f6ef"/>
  <path d="M59.6,37.4 L61.4,41 L59.8,44.4 L58,41 Z" fill="#1f9c80"/>
  <path d="M59.6,47 C60.6,45 62.6,43.6 64.2,42.4 L65.2,47.6 L62.6,51 Z" fill="#fbdcbc"/>
  <!-- head -->
  <path d="M44,27.6 C44,21 49,16 56,16 C63,16 68,21 68,27.6 C68,33.6 63,37.6 56,37.6 C49,37.6 44,33.6 44,27.6 Z" fill="#fbdcbc"/>
  <ellipse cx="59.6" cy="28.6" rx="2.4" ry="1.6" fill="#f7b9a4" opacity=".75"/>
  <ellipse cx="56" cy="26.4" rx=".8" ry="1.2" fill="#6a4a2a"/>
  <path d="M46.4,24.6 C47,23.8 48,23.6 48.8,24" stroke="#6a4a2a" stroke-width=".5" fill="none"/>
  <!-- hair front -->
  <path d="M44.6,16 C46,10 52,6.6 59,6.8 C66,7 71.6,10.4 73.6,16 C75.4,21 75,27.4 73,32.4 C71,35.4 67.6,36.4 64.6,35.6 C67,31 67.4,26 66,22 C62,21.6 58,20.4 55,18.4 C52,21 48.4,22 45,21.6 C44.2,19.6 44.2,17.6 44.6,16 Z" fill="#f3cb6c"/>
  <path d="M52,9.4 C56,7.6 62,7.6 66,9.4 C62,9.4 57,10.4 54,12.4 Z" fill="#f9dc8e"/>
  <path d="M67.6,9.4 L70.4,8 L70.6,10.4 L72.6,10.6 L71,12.6 L68.6,12 Z" fill="#d32a26"/>
  <!-- whisper hand -->
  <path d="M43.6,33 C44,31.6 45.4,31.4 46,32.4 L47.4,36 C48.6,38 49.6,40 50.6,41 L49.4,45 C47.6,45.4 45.6,44.6 44.6,43 C43.6,40 43.2,36 43.6,33 Z" fill="#fbd9b8"/>
  <!-- BOY -->
  <!-- hanging arm -->
  <path d="M30.4,50 L33,49.4 C34,53 35,57 35.8,60.4 L34.6,61.2 L33.4,59.6 C32,56.6 31,53 30.4,50 Z" fill="#fbdcbc"/>
  <!-- shirt -->
  <path d="M14.6,44 C17,41 21,39.6 25,39.6 C29,39.6 31.6,41 32.6,43.6 L32,52 C32,55 31.6,58 30.8,61 C25,61.6 17,60.6 11.6,58 C12.6,53 13.4,48 14.6,44 Z" fill="#1c55a6"/>
  <path d="M12.4,46.6 C13.4,43.6 16,41 20,39.8 L21.4,42 C19,44 17,47 16.6,50 Z" fill="#d9262c"/>
  <path d="M28,40 C31,40.6 32.8,43 32.9,46 L32.8,48.4 L29.4,47.4 Z" fill="#d9262c"/>
  <path d="M13.4,50 L28.6,44.4 L29.4,46.6 L14,52.2 Z" fill="#eef1f6"/>
  <path d="M12.4,49.6 C13.4,49 14.8,49.4 15,50.6 C15.2,51.8 14,52.8 12.8,52.4 Z" fill="#fbdcbc"/>
  <path d="M23,40 L28,40 L25.4,43.6 Z" fill="#fbdcbc"/>
  <!-- head -->
  <path d="M15.4,26 C15.4,18 22,13 30,13 C38,13 43.4,18.4 43.4,26 C43.4,34 38,39.6 30.4,39.6 C22,39.6 15.4,34 15.4,26 Z" fill="#fcdfc2"/>
  <ellipse cx="14.6" cy="27.8" rx="2.2" ry="2.8" fill="#fbd9b8"/>
  <!-- hair -->
  <path d="M9.8,23 C9.4,13.6 18,6.6 28.4,6.6 C38,6.6 45,13 44.9,21.6 C44.8,24.6 44,27.4 42.8,29.4 C42.4,26 41.6,23 40,20.4 L38.4,23.4 L36.6,19.6 L33.6,23 L32.4,19.4 C29,22 25,23 20,22.4 C18,24.6 17,27.6 17.4,31 L18.4,35 C13.6,33 10,28.6 9.8,23 Z" fill="#5b3317"/>
  <path d="M20,10.6 C24,8 31,7.6 36,9.6 C31,9.6 25,11 22,13.6 Z" fill="#74451f"/>
  <!-- face -->
  <ellipse cx="27" cy="28.4" rx=".95" ry="1.35" fill="#3a2618"/><path d="M25,25.6 C26.2,24.6 27.8,24.6 29,25.4" stroke="#4a3020" stroke-width=".55" fill="none"/>
  <ellipse cx="38.2" cy="29.4" rx=".9" ry="1.3" fill="#3a2618"/><path d="M36.4,26.4 C37.6,25.6 39,25.8 40,26.8" stroke="#4a3020" stroke-width=".55" fill="none"/>
  <path d="M30,35.6 C31,36.4 32.4,36.4 33.4,35.6" stroke="#c0624a" stroke-width=".55" fill="none"/>
</g>
<g id="leaves" transform="translate(1285,838)">
  <!-- leaf B (middle, behind) -->
  <path d="M32.2,16 C36,10.6 45,7 53.8,7.2 C54.4,13 51,20.4 45,24.4 C42,26.2 38,26.8 35.6,26.6 C33.4,24 31.6,19.6 32.2,16 Z" fill="#23a03c"/>
  <path d="M32.2,16 C36,10.6 45,7 53.8,7.2 C48,13 41,17.4 35.4,20.6 C34,19.4 32.8,17.6 32.2,16 Z" fill="#8fd02c"/>
  <path d="M35.4,20.6 C41,17.4 48,13 53.8,7.2" stroke="#1c7a2e" stroke-width=".6" fill="none"/>
  <path d="M32.2,16 C36,10.6 45,7 53.8,7.2 C54.4,13 51,20.4 45,24.4 C42,26.2 38,26.8 35.6,26.6" stroke="#1f8a34" stroke-width=".5" fill="none"/>
  <!-- leaf A (left) -->
  <path d="M8.2,22.4 C11,17.4 18,14 25,14.2 C31,14.6 36,19.6 37.6,27.6 C36,32.6 31,36.8 26,36.8 C19,36.6 11,30 8.2,22.4 Z" fill="#8fd02c"/>
  <path d="M8.2,22.4 C11,17.4 18,14 25,14.2 C31,14.6 36,19.6 37.6,27.6 C28,27.4 17,25.4 8.2,22.4 Z" fill="#1f9a3a"/>
  <path d="M8.2,22.4 C17,25.4 28,27.4 37.6,27.6" stroke="#1b7a2e" stroke-width=".6" fill="none"/>
  <path d="M8.2,22.4 C11,17.4 18,14 25,14.2 C31,14.6 36,19.6 37.6,27.6 C36,32.6 31,36.8 26,36.8 C19,36.6 11,30 8.2,22.4 Z" stroke="#1f8a34" stroke-width=".5" fill="none"/>
  <g stroke="#6fb524" stroke-width=".45" fill="none"><path d="M14,24.2 L18,30 M19,25.4 L23,33 M24,26.4 L28,34.6 M29.4,27 L32.6,33"/></g>
  <g stroke="#17872f" stroke-width=".45" fill="none"><path d="M14,24 L16,18.6 M19,25.2 L21.4,16.4 M24,26.2 L27,16 M29.4,26.8 L32,18.6"/></g>
  <!-- leaf C (right) -->
  <path d="M53.2,28.8 C54,21 59,14 67,13 C73,12.6 79,14.6 82.8,18.2 C82.6,25 78,32 70.6,34.6 C63.6,36 56.6,33 53.2,28.8 Z" fill="#23a03c"/>
  <path d="M53.2,28.8 C54,21 59,14 67,13 C73,12.6 79,14.6 82.8,18.2 C73,21 62,25 53.2,28.8 Z" fill="#8fd02c"/>
  <path d="M53.2,28.8 C62,25 73,21 82.8,18.2" stroke="#1c7a2e" stroke-width=".6" fill="none"/>
  <path d="M53.2,28.8 C54,21 59,14 67,13 C73,12.6 79,14.6 82.8,18.2 C82.6,25 78,32 70.6,34.6 C63.6,36 56.6,33 53.2,28.8 Z" stroke="#1f8a34" stroke-width=".5" fill="none"/>
  <g stroke="#72b726" stroke-width=".45" fill="none"><path d="M59,26.4 L57.6,19 M64,24.4 L62,15.6 M69.6,22.4 L68,13.6 M75,20.6 L74.6,14.4"/></g>
  <g stroke="#17872f" stroke-width=".45" fill="none"><path d="M59,26.4 L62.6,33 M64,24.4 L68.6,34 M69.6,22.4 L74.6,31.6 M75,20.6 L79.6,26.4"/></g>
</g>
<g id="breath" transform="translate(1285,876)">
  <defs>
    <linearGradient id="brHair" x1="0" y1="0" x2="1" y2="1"><stop offset="0" stop-color="#7a3742"/><stop offset=".45" stop-color="#9a5560"/><stop offset="1" stop-color="#6f2f3b"/></linearGradient>
    <linearGradient id="brShirt" x1="0" y1="0" x2="1" y2="0"><stop offset="0" stop-color="#4f92cf"/><stop offset=".6" stop-color="#6fb0e2"/><stop offset="1" stop-color="#5a9cd6"/></linearGradient>
  </defs>
  <!-- breath lines -->
  <path d="M19.4,44.4 C17.6,49.4 15,54 12,58 M21.8,49.2 C19.6,54.6 16.6,59.6 13.2,63.6" stroke="#a9c3d4" stroke-width=".9" fill="none" stroke-linecap="round"/>
  <!-- ponytail -->
  <path d="M64,20 C68,17.6 74,19.6 77,25 C79.6,30 79.6,38 78.6,46 C78,52 78.4,56.6 79.4,59 C77.6,59.4 76,60.2 74.6,61.6 L72.4,63.4 C71.6,61 70,58.6 67.6,56 C64.6,52.6 63,49 63.6,45 C66,38 66.4,28 64,20 Z" fill="url(#brHair)"/>
  <path d="M72,24 C75,30 75.4,40 74,48 C73.4,52 74,56 75.6,59.4 C73.6,56 72,52 72.4,47 C73.4,39 73.4,30 72,24 Z" fill="#b06e78" opacity=".7"/>
  <!-- shirt -->
  <path d="M35,58 L40,55.6 L47.6,53.2 C51,56 54,61 55.2,67 L56,74.8 L32,74.8 C33.4,69 35,64 36.4,61 Z" fill="url(#brShirt)"/>
  <path d="M35,58 L40.4,55.4 L42,61 L36.4,62 Z" fill="#4a8ccc"/>
  <path d="M40.4,55.4 L47.6,53.2 L49,57 L42,61 Z" fill="#76b6e6"/>
  <!-- neck -->
  <path d="M37,50 L46,48 L47.8,53.4 L41,58.6 C39.6,56 38,53 37,50 Z" fill="#f7a56c"/>
  <!-- face -->
  <path d="M24,28.4 C28,25 36,24 42,26 C46,30 48,40 46,49 C44,52.6 40,54.2 36,54.4 C32.6,54.6 29.6,54 27.6,52.6 C26.2,51.6 25.6,50.4 25.6,49.4 C24.6,49 24,48.4 24.2,47.4 C23.4,46.6 23.6,45.6 24.2,45 L23.6,43.6 C21.6,43.4 19.6,42.6 19,41.6 C20.6,39.6 22,37.6 22.6,35.6 C22.4,33 22.8,30.4 24,28.4 Z" fill="#fcceaa"/>
  <path d="M34,30 C38,30 42,33 43.6,38 C45,43 44.6,48 43,52 C41,53.6 38.6,54.2 36,54.4 C38,50 38.6,45 37.6,40 C36.8,36 35.6,33 34,30 Z" fill="#f8ab74" opacity=".85"/>
  <!-- eye -->
  <ellipse cx="28.6" cy="37.4" rx="1.5" ry="2.5" fill="#e9f1f4"/>
  <ellipse cx="28.2" cy="37.6" rx="1.05" ry="1.9" fill="#3f7a9a"/>
  <ellipse cx="28" cy="37.6" rx=".6" ry="1.1" fill="#1d2a33"/>
  <path d="M26.4,34.6 C27.6,33.4 29.6,33.4 31,34.6" stroke="#5a2a30" stroke-width=".6" fill="none"/>
  <path d="M24.4,47.2 C25.4,47.4 26.4,47 27.2,46.2" stroke="#c86a54" stroke-width=".5" fill="none"/>
  <!-- hair main -->
  <path d="M14,18.4 C18,17.6 21,15.6 24,13 C30,8.4 38,6.6 46,7.4 C56,8.4 64,15 66.4,24 C68.4,32 66,42 60,47.6 C56,51 51,51.6 47,50 C48,44 47.6,38 45.6,33.6 C44,34.6 42,34.6 40.4,33.6 C42,31.6 42.4,29.6 42,27.6 C38,28 33,27.6 29,26 C27,28.6 24,30.4 21.4,30.8 L19.6,30 C18,27 17.4,24 17.6,21.4 C16.4,20.6 15,19.6 14,18.4 Z" fill="url(#brHair)"/>
  <path d="M28,13.6 C34,10 42,9.4 49,12 C42,11.6 35,13.6 31,17.6 C29,20 28.4,23 28.6,25.6 C26,22 26,17 28,13.6 Z" fill="#b06e78" opacity=".75"/>
  <path d="M44,14 C50,16 55,21 56.4,28 C57.4,34 56,40 53,44 C55,38 55,31 52.6,25 C50.6,20 47.6,16 44,14 Z" fill="#a7636e" opacity=".6"/>
  <!-- ear -->
  <ellipse cx="47.2" cy="37" rx="3.1" ry="5.6" transform="rotate(10 47.2 37)" fill="#f9b786"/>
  <path d="M46,33.6 C48,34 48.8,37 47.6,40.4" stroke="#e58a58" stroke-width=".6" fill="none"/>
</g>
</svg>
</div>
</body>
</html>
